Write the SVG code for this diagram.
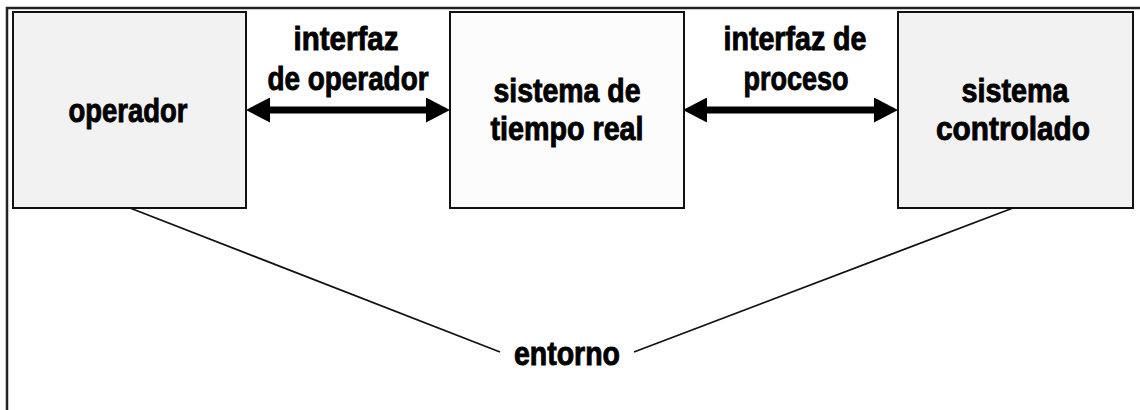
<svg xmlns="http://www.w3.org/2000/svg" width="1140" height="410" viewBox="0 0 1140 410">
  <style>
    .box { stroke: #111; stroke-width: 2; }
    .gray { fill: #f2f2f2; }
    .white { fill: #fcfcfc; }
    .lbl { font-family: "Liberation Sans Narrow", "Liberation Sans", Arial, sans-serif; font-weight: bold; font-size: 33px; fill: #000; stroke: #000; stroke-width: 0.9; text-anchor: middle; }
    .arrow { stroke: #000; stroke-width: 7; fill: none; }
    .env { stroke: #111; stroke-width: 1.8; fill: none; }
  </style>
  <defs>
    <marker id="head" markerUnits="userSpaceOnUse" markerWidth="24" markerHeight="25" refX="0" refY="12.5" orient="auto-start-reverse">
      <path d="M0,0 L24,12.5 L0,25 Z" fill="#000"/>
    </marker>
  </defs>
  <rect width="1140" height="410" fill="#fff"/>
  <g id="frame">
    <path d="M7,410 L7,8 L1140,8" fill="none" stroke="#222" stroke-width="2.5"/>
  </g>
  <g id="connectors">
    <line class="arrow" x1="270" y1="110" x2="426" y2="110" marker-start="url(#head)" marker-end="url(#head)"/>
    <line class="arrow" x1="707" y1="110" x2="874" y2="110" marker-start="url(#head)" marker-end="url(#head)"/>
    <line class="env" x1="130" y1="208" x2="500" y2="352"/>
    <line class="env" x1="1013" y1="208" x2="634" y2="352"/>
  </g>
  <g id="operador">
    <rect class="box gray" x="13" y="12" width="233" height="196"/>
    <text class="lbl" x="128" y="122" textLength="119" lengthAdjust="spacingAndGlyphs">operador</text>
  </g>
  <g id="sistema-tiempo-real">
    <rect class="box white" x="450" y="12" width="234" height="196"/>
    <text class="lbl" x="567" y="102" textLength="147" lengthAdjust="spacingAndGlyphs">sistema de</text>
    <text class="lbl" x="567" y="140" textLength="153" lengthAdjust="spacingAndGlyphs">tiempo real</text>
  </g>
  <g id="sistema-controlado">
    <rect class="box gray" x="898" y="12" width="235" height="196"/>
    <text class="lbl" x="1015" y="102" textLength="107" lengthAdjust="spacingAndGlyphs">sistema</text>
    <text class="lbl" x="1013" y="140" textLength="154" lengthAdjust="spacingAndGlyphs">controlado</text>
  </g>
  <g id="interfaz-operador">
    <text class="lbl" x="346" y="50" textLength="105" lengthAdjust="spacingAndGlyphs">interfaz</text>
    <text class="lbl" x="348" y="90" textLength="161" lengthAdjust="spacingAndGlyphs">de operador</text>
  </g>
  <g id="interfaz-proceso">
    <text class="lbl" x="795" y="50" textLength="143" lengthAdjust="spacingAndGlyphs">interfaz de</text>
    <text class="lbl" x="796" y="90" textLength="105" lengthAdjust="spacingAndGlyphs">proceso</text>
  </g>
  <g id="entorno">
    <text class="lbl" x="567" y="365" textLength="106" lengthAdjust="spacingAndGlyphs">entorno</text>
  </g>
</svg>
